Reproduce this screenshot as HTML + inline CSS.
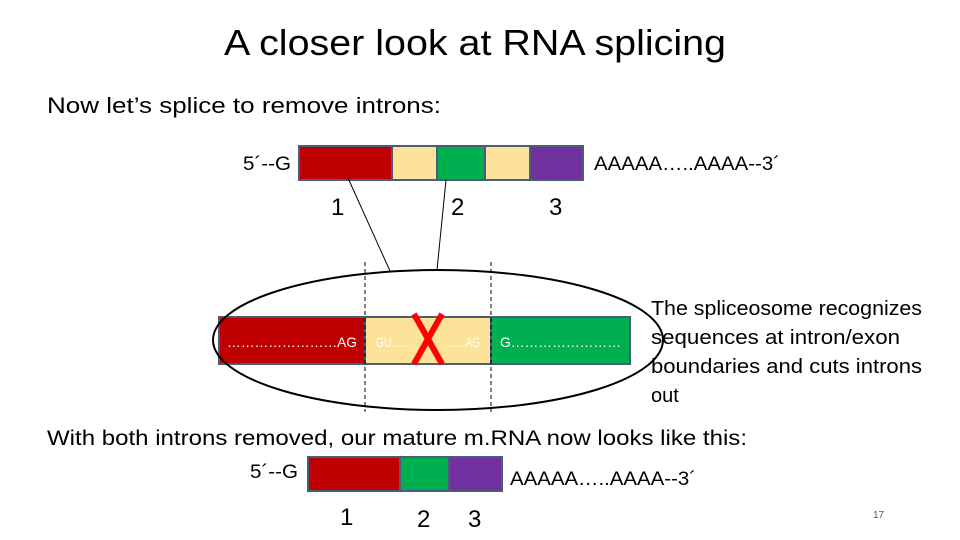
<!DOCTYPE html>
<html><head><meta charset="utf-8"><style>
html,body{margin:0;padding:0;background:#fff;}
svg{display:block;font-family:"Liberation Sans",sans-serif;}
</style></head><body>
<svg width="960" height="540" viewBox="0 0 960 540" xmlns="http://www.w3.org/2000/svg">
<text x="475" y="55" font-size="36" text-anchor="middle" textLength="502" lengthAdjust="spacingAndGlyphs">A closer look at RNA splicing</text>
<text x="47" y="113" font-size="22" textLength="394" lengthAdjust="spacingAndGlyphs">Now let’s splice to remove introns:</text>
<!-- top bar -->
<text x="243" y="170" font-size="19" textLength="48" lengthAdjust="spacingAndGlyphs">5´--G</text>
<g stroke="#4a5c7a" stroke-width="2">
<rect x="299" y="146" width="93" height="34" fill="#c00000"/>
<rect x="392" y="146" width="45" height="34" fill="#fde29a"/>
<rect x="437" y="146" width="48" height="34" fill="#00b050"/>
<rect x="485" y="146" width="45" height="34" fill="#fde29a"/>
<rect x="530" y="146" width="53" height="34" fill="#7030a0"/>
</g>
<text x="594" y="170" font-size="19" textLength="186" lengthAdjust="spacingAndGlyphs">AAAAA…..AAAA--3´</text>
<text x="331" y="215" font-size="24">1</text>
<text x="451" y="215" font-size="24">2</text>
<text x="549" y="215" font-size="24">3</text>
<line x1="348" y1="178" x2="390" y2="271" stroke="#000" stroke-width="1"/>
<line x1="446" y1="180" x2="437" y2="270" stroke="#000" stroke-width="1"/>
<!-- middle -->
<g stroke="#4a5c7a" stroke-width="2">
<rect x="219" y="317" width="146" height="47" fill="#c00000"/>
<rect x="365" y="317" width="126" height="47" fill="#fde29a"/>
<rect x="491" y="317" width="139" height="47" fill="#00b050"/>
</g>
<ellipse cx="438" cy="340" rx="225" ry="70" fill="none" stroke="#000" stroke-width="2"/>
<line x1="365" y1="262" x2="365" y2="412" stroke="#000" stroke-width="1" stroke-dasharray="4,3"/>
<line x1="491" y1="262" x2="491" y2="412" stroke="#000" stroke-width="1" stroke-dasharray="4,3"/>
<text x="227" y="347" font-size="14" fill="#fff" textLength="130" lengthAdjust="spacingAndGlyphs">……………………AG</text>
<text x="376" y="347" font-size="14" fill="#fff" textLength="36" lengthAdjust="spacingAndGlyphs">GU……</text>
<text x="446" y="347" font-size="14" fill="#fff" textLength="34" lengthAdjust="spacingAndGlyphs">……AG</text>
<text x="500" y="347" font-size="14" fill="#fff" textLength="121" lengthAdjust="spacingAndGlyphs">G……………………</text>
<g stroke="#ff0000" stroke-width="6" stroke-linecap="butt">
<line x1="414" y1="314" x2="442" y2="364"/>
<line x1="442" y1="314" x2="414" y2="364"/>
</g>
<g font-size="20">
<text x="651" y="315" textLength="271" lengthAdjust="spacingAndGlyphs">The spliceosome recognizes</text>
<text x="651" y="344" textLength="249" lengthAdjust="spacingAndGlyphs">sequences at intron/exon</text>
<text x="651" y="373" textLength="271" lengthAdjust="spacingAndGlyphs">boundaries and cuts introns</text>
<text x="651" y="402">out</text>
</g>
<text x="47" y="445" font-size="21" textLength="700" lengthAdjust="spacingAndGlyphs">With both introns removed, our mature m.RNA now looks like this:</text>
<!-- bottom bar -->
<text x="250" y="478" font-size="19" textLength="48" lengthAdjust="spacingAndGlyphs">5´--G</text>
<g stroke="#4a5c7a" stroke-width="2">
<rect x="308" y="457" width="92" height="34" fill="#c00000"/>
<rect x="400" y="457" width="49" height="34" fill="#00b050"/>
<rect x="449" y="457" width="53" height="34" fill="#7030a0"/>
</g>
<text x="510" y="485" font-size="19" textLength="186" lengthAdjust="spacingAndGlyphs">AAAAA…..AAAA--3´</text>
<text x="340" y="525" font-size="24">1</text>
<text x="417" y="527" font-size="24">2</text>
<text x="468" y="527" font-size="24">3</text>
<text x="873" y="518" font-size="10" fill="#555">17</text>
</svg>
</body></html>
